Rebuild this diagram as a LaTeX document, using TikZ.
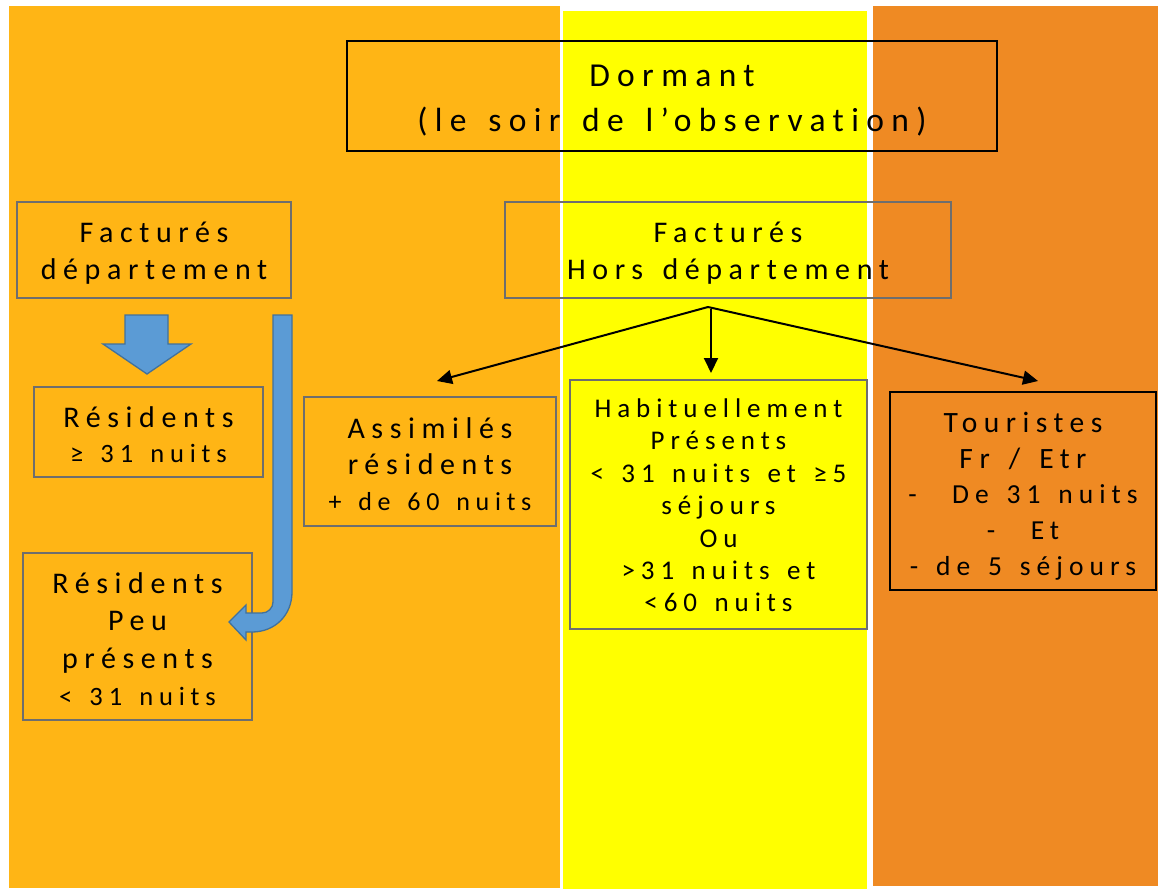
\documentclass[tikz,border=0pt]{standalone}
\usepackage{fontspec}
\setmainfont{Carlito}[LetterSpace=22, WordSpace=1.45, Ligatures=NoCommon]
\usetikzlibrary{arrows.meta}
\definecolor{bandA}{HTML}{FFB515}
\definecolor{bandB}{HTML}{FFFF00}
\definecolor{bandC}{HTML}{EF8A23}
\definecolor{boxgray}{HTML}{6E6E6E}
\definecolor{arrowblue}{HTML}{5B9BD5}
\definecolor{arrowedge}{HTML}{41719C}
\newcommand\myfs[2]{\fontsize{#1}{#2}\selectfont}
\tikzset{
  graybox/.style={draw=boxgray, line width=1.8pt, inner sep=0pt},
  blackbox/.style={draw=black, line width=1.8pt, inner sep=0pt},
  lbl/.style={align=center, inner sep=0pt},
  blockarrow/.style={fill=arrowblue, draw=arrowedge, line width=1.3pt, line join=miter},
  conn/.style={draw=black, line width=2pt, -{Triangle[length=15pt,width=14pt]}}
}
\begin{document}
\begin{tikzpicture}[x=1pt,y=-1pt]
\useasboundingbox (0,0) rectangle (1158,889);
% background bands
\fill[bandA] (9,6) rectangle (560,888);
\fill[bandB] (563,11) rectangle (867,889);
\fill[bandC] (873,6) rectangle (1158,886);

% boxes
\node[blackbox, minimum width=650pt, minimum height=110pt,
  label={[lbl, font=\myfs{33.5}{45}, yshift=-5pt]center:{Dormant\\(le soir de l’observation)}}]
  (dormant) at (672,96) {};
\node[graybox, minimum width=274pt, minimum height=96pt,
  label={[lbl, font=\myfs{30}{37}, yshift=-3pt]center:{Facturés\\département}}]
  (factD) at (154,250) {};
\node[graybox, minimum width=446pt, minimum height=96pt,
  label={[lbl, font=\myfs{30}{37}, yshift=-3pt]center:{Facturés\\Hors département}}]
  (factH) at (728,250) {};
\node[graybox, minimum width=229pt, minimum height=90pt,
  label={[lbl, font=\myfs{30}{35}, yshift=-2.5pt]center:{Résidents\\{\myfs{26.5}{35}≥ 31 nuits}}}]
  (res) at (148.5,432) {};
\node[graybox, minimum width=229pt, minimum height=167pt,
  label={[lbl, font=\myfs{30}{37.5}, yshift=-2.5pt]center:{Résidents\\Peu\\présents\\{\myfs{26.5}{37.5}< 31 nuits}}}]
  (peu) at (137.5,636.5) {};
\node[graybox, minimum width=252pt, minimum height=129pt,
  label={[lbl, font=\myfs{30}{36}, yshift=-3pt]center:{Assimilés\\résidents\\{\myfs{26}{36}+ de 60 nuits}}}]
  (assim) at (430,461.5) {};
\node[graybox, fill=bandB, minimum width=297pt, minimum height=249pt,
  label={[lbl, font=\myfs{27}{32.4}, yshift=-1pt]center:{Habituellement\\Présents\\< 31 nuits et ≥5\\séjours\\Ou\\>31 nuits et\\<60 nuits}}]
  (habit) at (718.5,504.5) {};
\node[blackbox, minimum width=266pt, minimum height=198pt,
  label={[lbl, font=\myfs{27.5}{35.7}, yshift=-5pt]center:{{\myfs{29.5}{35.7}Touristes}\\{\myfs{29.5}{35.7}Fr / Etr}\\-\ \ De 31 nuits\\-\ \ Et\\- de 5 séjours}}]
  (tour) at (1023,491) {};

% black connectors
\coordinate (apex) at (708,307);
\coordinate (apexm) at (711,309);
\coordinate (tA) at (437,381);
\coordinate (tH) at (711,373);
\coordinate (tT) at (1038,381);
\draw[conn] (apex) -- (tA);
\draw[conn] (apexm) -- (tH);
\draw[conn] (apex) -- (tT);

% blue block arrow down
\draw[blockarrow] (125,315) -- (168,315) -- (168,344) -- (191,344) -- (147,374)
  -- (103,344) -- (125,344) -- cycle;
% blue bent arrow
\draw[blockarrow] (273,315) -- (292,315) -- (292,592)
  .. controls (292,615) and (275,632) .. (252,632)
  -- (246,632) -- (246,640) -- (229,622) -- (246,605) -- (246,613) -- (262,613)
  .. controls (268,613) and (273,608) .. (273,602) -- cycle;
\end{tikzpicture}
\end{document}
